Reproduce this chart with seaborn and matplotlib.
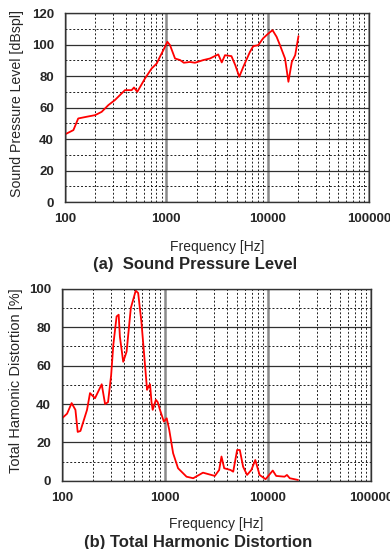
import numpy as np
import pandas as pd
import seaborn as sns
import matplotlib
matplotlib.use("Agg")
import matplotlib.pyplot as plt
from matplotlib.ticker import FixedLocator, NullFormatter

# (a) sound pressure level
spl_freq = [100, 121, 135, 164, 198, 230, 268, 311, 391, 455, 480, 517, 616, 718,
            804, 866, 935, 1025, 1088, 1220, 1370, 1490, 1710, 1920, 2320, 2700,
            3260, 3530, 3800, 4400, 4800, 5260, 5760, 6700, 7220, 8100, 9030,
            10150, 11200, 12280, 13260, 14880, 16070, 17360, 18740, 20200]
spl_db = [43, 45.7, 53.1, 54.2, 55.2, 57.3, 61.6, 64.8, 71.1, 71.1, 72.8, 70, 78.5, 84.9,
          88, 92.3, 96.5, 101.8, 99.7, 91.2, 90.2, 88.5, 89, 88.5, 90.2, 91.2,
          93.8, 88.7, 93.3, 92.7, 87, 79.6, 85.9, 95.4, 99, 99.7, 104,
          107, 109.2, 105, 99.7, 91.2, 76.4, 89, 93.3, 105.4]

# (b) total harmonic distortion
thd_freq = [100, 112, 124, 135, 142, 151, 175, 187, 209, 243, 262, 280, 300, 315,
            339, 355, 365, 393, 424, 466, 520, 549, 590, 636, 670, 690, 716, 740,
            760, 816, 850, 894, 975, 1040, 1100, 1200, 1340, 1620, 1880, 2340,
            3050, 3360, 3540, 3760, 4330, 4600, 5020, 5330, 5740, 6270, 6900,
            7540, 8300, 9490, 11140, 12030, 14500, 15300, 16300, 19620]
thd_pct = [32.6, 35, 40.5, 37, 25.5, 26, 37, 45.7, 43, 50.3, 40, 41, 55, 70.8,
           85.6, 86.5, 75, 62, 67.3, 90, 99, 97.8, 83, 62, 47.4, 49, 50.3, 41,
           37, 42.2, 41, 37, 30.9, 32.6, 26.6, 14.4, 6.6, 2.2, 1.4, 4.3,
           2.6, 5.7, 12.7, 6.6, 5.7, 4.8, 16.1, 16.1, 7.4, 3.1, 5.7,
           10.9, 3.1, 0.9, 5.4, 2.6, 2.2, 3.1, 1.4, 0.5]

x_ticks = [100, 1000, 10000, 100000]
x_labels = ["100", "1000", "10000", "100000"]

sns.set_style("white")
plt.rcParams['font.family'] = ['Liberation Sans', 'DejaVu Sans']

fig = plt.figure(figsize=(3.9, 5.49), dpi=100)
ax1 = fig.add_axes([0.1667, 0.632, 0.779, 0.344])
ax2 = fig.add_axes([0.159, 0.124, 0.792, 0.350])


def style_axis(ax, ymax, ylabel, ylab_size, labpad, ylab_x):
    ax.set_xscale("log")
    ax.set_xlim(100, 100000)
    ax.set_ylim(0, ymax)
    ax.xaxis.set_major_locator(FixedLocator(x_ticks))
    ax.set_xticklabels(x_labels)
    ax.xaxis.set_minor_locator(FixedLocator(
        [m * 10 ** e for e in range(2, 5) for m in range(2, 10)]))
    ax.xaxis.set_minor_formatter(NullFormatter())
    ax.set_yticks(np.arange(0, ymax + 1, 20))
    ax.set_yticks(np.arange(10, ymax, 20), minor=True)
    ax.grid(which="major", axis="x", color="#8a8a8a", lw=1.8, ls="-")
    ax.grid(which="major", axis="y", color="#303030", lw=0.9, ls="-")
    ax.grid(which="minor", color="#202020", lw=0.7, ls=(0, (2, 2)))
    ax.tick_params(which="both", length=0)
    ax.tick_params(axis="x", pad=8)
    ax.tick_params(axis="y", pad=8)
    for lab in ax.get_xticklabels() + ax.get_yticklabels():
        lab.set_fontsize(9.5)
        lab.set_fontweight("bold")
    for s in ax.spines.values():
        s.set_color("#333333")
        s.set_linewidth(1)
    ax.set_xlabel("Frequency [Hz]", fontsize=10, labelpad=labpad)
    ax.set_ylabel(ylabel, fontsize=ylab_size)
    ax.yaxis.set_label_coords(ylab_x, 0.52)
    ax.set_axisbelow(True)


df1 = pd.DataFrame({"freq": spl_freq, "val": spl_db})
df2 = pd.DataFrame({"freq": thd_freq, "val": thd_pct})

sns.lineplot(data=df1, x="freq", y="val", ax=ax1, color="red", lw=1.3,
             sort=False, estimator=None)
sns.lineplot(data=df2, x="freq", y="val", ax=ax2, color="red", lw=1.3,
             sort=False, estimator=None)

style_axis(ax1, 120, "Sound Pressure Level [dBspl]", 10.2, 11, -0.135)
style_axis(ax2, 100, "Total Hamonic Distortion [%]", 10.5, 9, -0.126)

fig.text(0.5, 1 - 265 / 549, "(a)  Sound Pressure Level", ha="center", va="center",
         fontsize=12, fontweight="bold")
fig.text(0.508, 1 - 542 / 549, "(b) Total Harmonic Distortion", ha="center", va="center",
         fontsize=12, fontweight="bold")

fig.savefig("out.png", dpi=100)
